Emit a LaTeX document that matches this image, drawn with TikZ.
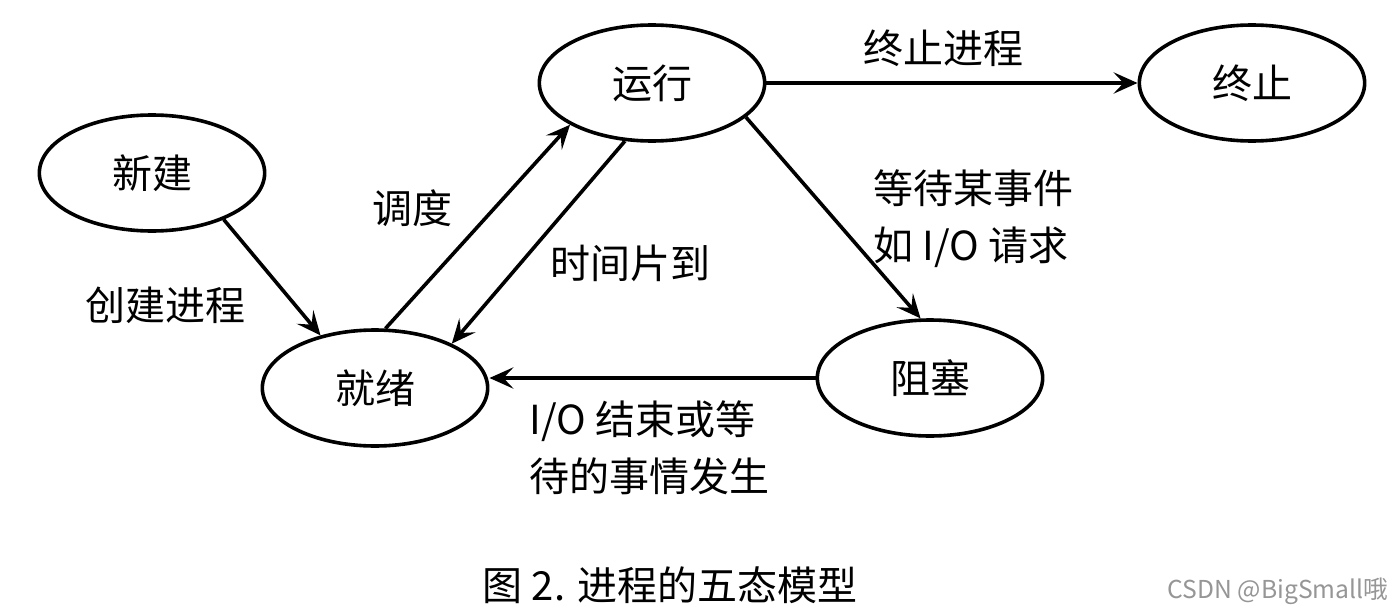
\documentclass[tikz,border=0pt]{standalone}
\usepackage{fontspec}
\setmainfont{Noto Sans CJK SC}
\usetikzlibrary{shapes.geometric,arrows.meta}
\definecolor{markgray}{RGB}{150,150,150}
\tikzset{every picture/.style={line width=0.75pt}}
\tikzset{
  state/.style={draw, ellipse, line width=2.7pt, inner sep=0pt,
    minimum width=169pt, minimum height=87pt, font=\fontsize{30}{36}\selectfont},
  trans/.style={line width=2.7pt, -{Stealth[length=18pt,width=16pt,inset=7.5pt]}},
  lbl/.style={inner sep=0.75pt, font=\fontsize{30}{43}\selectfont, align=left},
  watermark/.style={inner sep=0.75pt, text=markgray, font=\fontsize{18.5}{20}\selectfont}
}

\begin{document}
\begin{tikzpicture}[x=0.75pt,y=0.75pt,yscale=-1,xscale=1]
%set diagram left start at 0, and has height of 614
\path [fill=white] (0,0) rectangle (1396,614);
\useasboundingbox (0,0) rectangle (1396,614);

%Shape: Ellipse [id:new]
\node [state] (xj) at (152,173) {新建};
%Shape: Ellipse [id:ready]
\node [state] (jx) at (375,388) {就绪};
%Shape: Ellipse [id:running]
\node [state] (yx) at (652,83) {运行};
%Shape: Ellipse [id:exit]
\node [state] (zz) at (1252,83) {终止};
%Shape: Ellipse [id:blocked]
\node [state] (zs) at (930,378) {阻塞};

%Straight Lines [id:create]
\draw [trans] (xj.-33) -- (jx.136) ;
%Straight Lines [id:dispatch]
\draw [trans] (jx.80) -- (yx.-153) ;
%Straight Lines [id:timeout]
\draw [trans] (yx.-115) -- (jx.30) ;
%Straight Lines [id:release]
\draw [trans] (yx.east) -- (zz.west) ;
%Straight Lines [id:wait]
\draw [trans] (yx.-20) -- (zs.99) ;
%Straight Lines [id:occurs]
\draw [trans] (zs.west) -- (zs.west -| jx.east) ;

% Text Node
\draw (412,208) node [lbl] (ddu) {调度};
% Text Node
\draw (165,305) node [lbl] (cjjc) {创建进程};
% Text Node
\draw (630,263) node [lbl] (sjpd) {时间片到};
% Text Node
\draw (943,48) node [lbl] (zzjc) {终止进程};
% Text Node
\draw (872,219) node [lbl, anchor=west] (ddsj) {等待某事件\\如 I/O 请求};
% Text Node
\draw (528,448) node [lbl, anchor=west] (iojs) {I/O 结束或等\\待的事情发生};
% Text Node
\draw (670,585) node [lbl] (cap) {图 2. 进程的五态模型};
% Text Node
\draw (1278,591) node [watermark] (csdn) {CSDN @BigSmall哦};

\end{tikzpicture}
\end{document}
